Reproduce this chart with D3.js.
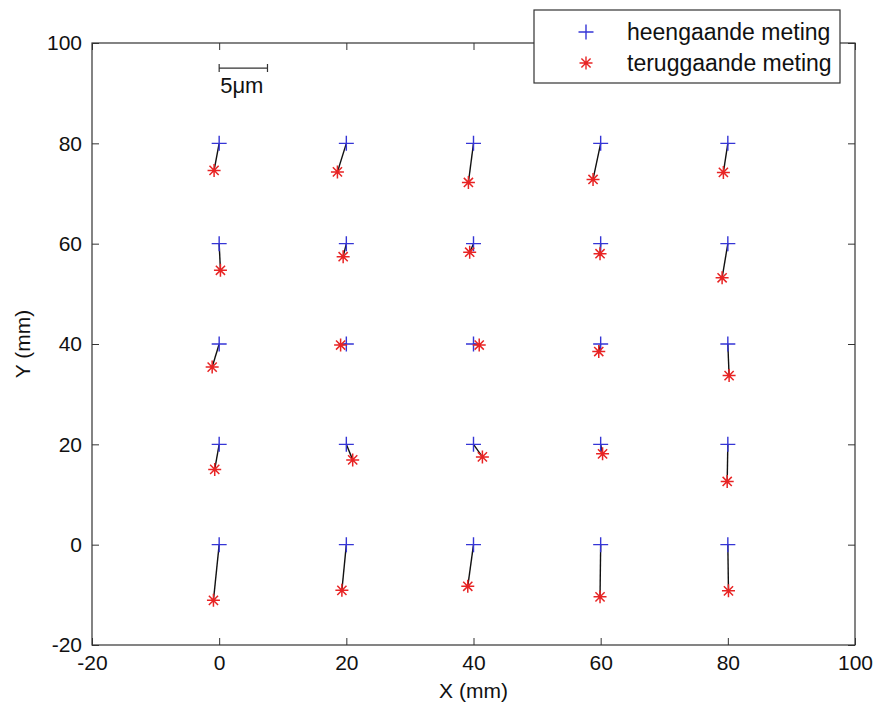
<!DOCTYPE html>
<html>
<head>
<meta charset="utf-8">
<script src="https://cdn.jsdelivr.net/npm/d3@7"></script>
<style>
  body { margin: 0; background: #fff; }
  text { font-family: "Liberation Sans", Arial, sans-serif; fill: #111; }
</style>
</head>
<body>
<svg id="chart" width="877" height="708"></svg>
<script>
// grid positions (heengaande meting)
const gridX = [0, 20, 40, 60, 80];
const gridY = [80, 60, 40, 20, 0];

// terug positions, one row per gridY, one column per gridX
const returnX = [
    [-0.8, 18.6, 39.2, 58.8, 79.3],
    [0.2, 19.5, 39.4, 59.9, 79.1],
    [-1.1, 19.1, 40.9, 59.7, 80.2],
    [-0.7, 21.0, 41.4, 60.3, 79.9],
    [-0.9, 19.3, 39.1, 59.9, 80.1]
];
const returnY = [
    [74.6, 74.3, 72.2, 72.8, 74.2],
    [54.7, 57.4, 58.3, 58.0, 53.2],
    [35.4, 39.8, 39.8, 38.5, 33.7],
    [15.0, 16.9, 17.5, 18.1, 12.6],
    [-11.1, -9.1, -8.3, -10.4, -9.2]
];

const xTicks = [-20, 0, 20, 40, 60, 80, 100];
const yTicks = [-20, 0, 20, 40, 60, 80, 100];
const legendLabels = ["heengaande meting", "teruggaande meting"];
const scaleBarLabel = "5\u03bcm";
const scaleBarLength = 7.6;   // 5 um in plot units

const svg = d3.select("#chart");
const x = d3.scaleLinear().domain([-20, 100]).range([92, 855]);
const y = d3.scaleLinear().domain([-20, 100]).range([645, 43]);

const blue = "#3535d6";
const red = "#e82424";
const fmt = d => String(d);   // plain hyphen minus like matlab

// build point pairs
const pairs = [];
gridY.forEach((gy, r) => {
    gridX.forEach((gx, c) => {
        pairs.push({ gx: gx, gy: gy, rx: returnX[r][c], ry: returnY[r][c] });
    });
});

// axes, ticks inside
svg.append("g")
    .attr("transform", `translate(0,${y(-20)})`)
    .call(d3.axisBottom(x).tickValues(xTicks).tickFormat(fmt).tickSizeInner(-7).tickSizeOuter(0).tickPadding(10))
    .call(g => g.select(".domain").remove())
    .call(g => g.selectAll("text").style("font-size", "21px"));

svg.append("g")
    .attr("transform", `translate(0,${y(100)})`)
    .call(d3.axisTop(x).tickValues(xTicks).tickSizeInner(-7).tickSizeOuter(0).tickFormat(""))
    .call(g => g.select(".domain").remove());

svg.append("g")
    .attr("transform", `translate(${x(-20)},0)`)
    .call(d3.axisLeft(y).tickValues(yTicks).tickFormat(fmt).tickSizeInner(-7).tickSizeOuter(0).tickPadding(10))
    .call(g => g.select(".domain").remove())
    .call(g => g.selectAll("text").style("font-size", "21px"));

svg.append("g")
    .attr("transform", `translate(${x(100)},0)`)
    .call(d3.axisRight(y).tickValues(yTicks).tickSizeInner(-7).tickSizeOuter(0).tickFormat(""))
    .call(g => g.select(".domain").remove());

svg.selectAll(".tick line").attr("stroke", "#333");

svg.append("rect")
    .attr("x", x(-20))
    .attr("y", y(100))
    .attr("width", x(100) - x(-20))
    .attr("height", y(-20) - y(100))
    .attr("fill", "none")
    .attr("stroke", "#333")
    .attr("stroke-width", 1.2);

// axis labels
svg.append("text")
    .attr("x", (x(-20) + x(100)) / 2)
    .attr("y", 698)
    .attr("text-anchor", "middle")
    .style("font-size", "21px")
    .text("X (mm)");

svg.append("text")
    .attr("transform", `translate(30,${(y(-20) + y(100)) / 2}) rotate(-90)`)
    .attr("text-anchor", "middle")
    .style("font-size", "21px")
    .text("Y (mm)");

// markers
const plusPath = s => `M${-s},0H${s}M0,${-s}V${s}`;
const starPath = s => {
    const d = s * Math.SQRT1_2;
    return `M${-s},0H${s}M0,${-s}V${s}M${-d},${-d}L${d},${d}M${-d},${d}L${d},${-d}`;
};

const plot = svg.append("g");

plot.selectAll(".shift")
    .data(pairs)
    .join("line")
    .attr("class", "shift")
    .attr("x1", d => x(d.gx))
    .attr("y1", d => y(d.gy))
    .attr("x2", d => x(d.rx))
    .attr("y2", d => y(d.ry))
    .attr("stroke", "#111")
    .attr("stroke-width", 1.4);

plot.selectAll(".heen")
    .data(pairs)
    .join("path")
    .attr("class", "heen")
    .attr("transform", d => `translate(${x(d.gx)},${y(d.gy)})`)
    .attr("d", plusPath(7.5))
    .attr("stroke", blue)
    .attr("stroke-width", 1.4)
    .attr("fill", "none");

plot.selectAll(".terug")
    .data(pairs)
    .join("path")
    .attr("class", "terug")
    .attr("transform", d => `translate(${x(d.rx)},${y(d.ry)})`)
    .attr("d", starPath(6.5))
    .attr("stroke", red)
    .attr("stroke-width", 1.5)
    .attr("fill", "none");

// scale bar
const sb = svg.append("g");
const sbY = y(95);
sb.append("path")
    .attr("d", `M${x(0)},${sbY - 4}V${sbY + 4}M${x(0)},${sbY}H${x(scaleBarLength)}M${x(scaleBarLength)},${sbY - 4}V${sbY + 4}`)
    .attr("stroke", "#333")
    .attr("stroke-width", 1.2)
    .attr("fill", "none");
sb.append("text")
    .attr("x", x(0) + 1)
    .attr("y", sbY + 25)
    .style("font-size", "22px")
    .text(scaleBarLabel);

// legend
const legend = svg.append("g");
legend.append("rect")
    .attr("x", 534)
    .attr("y", 10)
    .attr("width", 306)
    .attr("height", 73)
    .attr("fill", "#fff")
    .attr("stroke", "#333")
    .attr("stroke-width", 1.2);

legendLabels.forEach((label, i) => {
    const ly = 32 + i * 31;
    legend.append("path")
        .attr("transform", `translate(586,${ly})`)
        .attr("d", i === 0 ? plusPath(7.5) : starPath(6.5))
        .attr("stroke", i === 0 ? blue : red)
        .attr("stroke-width", 1.4)
        .attr("fill", "none");
    legend.append("text")
        .attr("x", 627)
        .attr("y", ly)
        .attr("dy", "0.35em")
        .style("font-size", "23px")
        .text(label);
});
</script>
</body>
</html>
